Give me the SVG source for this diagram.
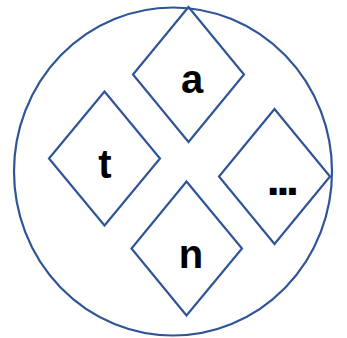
<svg xmlns="http://www.w3.org/2000/svg" width="347" height="338" viewBox="0 0 347 338">
<style>
.shape{fill:none;stroke:#2F5597;stroke-width:2.2;stroke-linejoin:miter}
.lbl{font-family:"Liberation Sans",Arial,sans-serif;font-weight:bold;font-size:40px;fill:#000}
</style>
<rect width="347" height="338" fill="#fff"/>
<g id="outer"><ellipse class="shape" cx="173" cy="171.5" rx="159" ry="164"/></g>
<g id="node-a">
<polygon class="shape" points="188.5,7 244,74.5 188.5,142 133,74.5"/>
<text class="lbl" x="192" y="93" text-anchor="middle">a</text>
</g>
<g id="node-t">
<polygon class="shape" points="104.5,91.5 160,158.5 104.5,225.5 49,158.5"/>
<text class="lbl" x="105" y="178" text-anchor="middle">t</text>
</g>
<g id="node-n">
<polygon class="shape" points="186.5,181.5 242,248.5 186.5,315.5 131.5,248.5"/>
<text class="lbl" x="191" y="267.5" text-anchor="middle">n</text>
</g>
<g id="node-more">
<polygon class="shape" points="274.5,109 330,176.5 274.5,244 219,176.5"/>
<text class="lbl" x="266.6" y="195" style="font-size:48px;letter-spacing:-3.8px">...</text>
</g>
<g id="connectors"></g>
</svg>
